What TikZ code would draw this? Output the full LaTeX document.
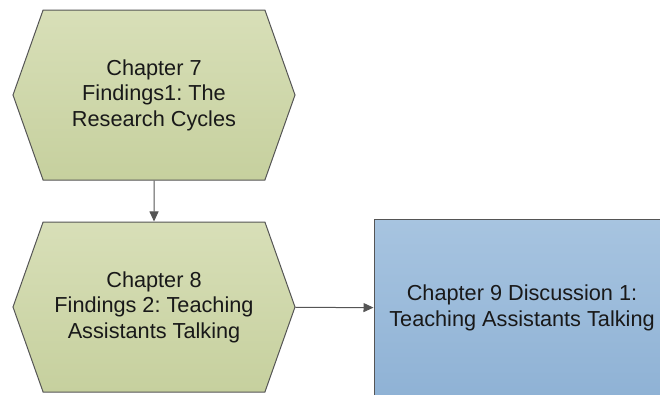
\documentclass[tikz,border=0pt]{standalone}
\usepackage{fontspec}
\setmainfont{Liberation Sans}
\frenchspacing
\usetikzlibrary{positioning, shapes, arrows.meta}
\definecolor{linegray}{RGB}{85,85,85}
\definecolor{olivetop}{RGB}{216,223,184}
\definecolor{olivebot}{RGB}{198,208,158}
\definecolor{bluetop}{RGB}{167,196,224}
\definecolor{bluebot}{RGB}{143,178,213}
\definecolor{textgray}{RGB}{25,25,25}
\tikzstyle{Chapter}=[signal, signal to=west and east, signal pointer angle=141, draw=linegray, line width=1pt, top color=olivetop, bottom color=olivebot, minimum width=282pt, minimum height=170pt, inner sep=0pt, align=center, text=textgray]
\tikzstyle{Discussion}=[rectangle, draw=linegray, line width=1pt, top color=bluetop, bottom color=bluebot, minimum width=296pt, minimum height=178pt, align=center, text=textgray]
\tikzstyle{Link}=[draw=linegray, line width=1pt, -{Triangle[length=10pt,width=9pt]}]

\begin{document}
\begin{tikzpicture}[x=1pt, y=-1pt, font=\fontsize{21.7}{25.5}\selectfont]
			\useasboundingbox (0, 0) rectangle (660, 394);
			\clip (0, 0) rectangle (660, 394);
			\node[Chapter] (ch7) at (154, 95) {Chapter 7\\Findings1: The\\Research Cycles};
			\node[Chapter] (ch8) at (154, 307) {Chapter 8\\Findings 2: Teaching\\Assistants Talking};
			\node[Discussion] (ch9) at (522, 308) {Chapter 9 Discussion 1:\\Teaching Assistants Talking};
			\path[Link] (ch7) -- (ch8);
			\path[Link] (ch8) -- (ch9);
		\end{tikzpicture}
\end{document}
